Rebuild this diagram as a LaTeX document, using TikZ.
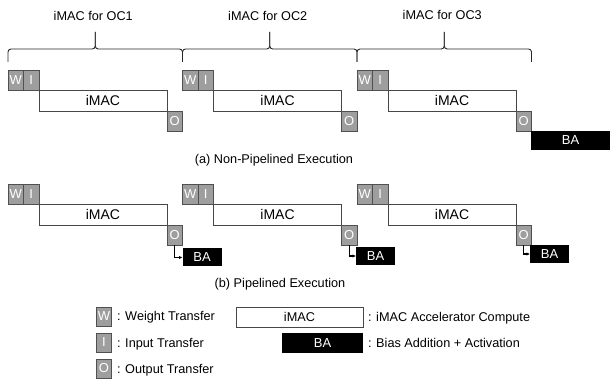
\documentclass[tikz,border=0pt]{standalone}
\usepackage{fontspec}
\setmainfont{Liberation Sans}
\usetikzlibrary{arrows.meta}
\definecolor{tgray}{RGB}{158,158,158}
\definecolor{tedge}{RGB}{80,80,80}
\definecolor{cedge}{RGB}{70,70,70}
\begin{document}
\begin{tikzpicture}[x=1pt,y=-1pt,
  every node/.style={inner sep=0pt,outer sep=0pt},
  xfer/.style={draw=tedge,fill=tgray,line width=0.9pt,text=white,
    font=\fontsize{13}{15}\selectfont,minimum width=15.5pt,minimum height=20pt},
  comp/.style={draw=cedge,fill=white,line width=0.9pt,
    font=\fontsize{14}{16}\selectfont,minimum height=21pt},
  bias/.style={fill=black,text=white,font=\fontsize{13}{15}\selectfont,minimum height=19pt},
  lbl/.style={font=\fontsize{12.7}{15}\selectfont},
  brc/.style={draw=black!85,line width=0.9pt,rounded corners=3pt},
  flow/.style={draw=black,line width=1.2pt,-{Latex[length=3.5pt,width=3.5pt]}}]
\useasboundingbox (0,0) rectangle (610,379);

% ---- (a) non-pipelined execution, one group per output channel
\foreach \k/\X/\ly in {1/8/15.5,2/182.5/15.5,3/357/14.5}{
  \node[xfer] (aW\k) at ({\X+7.75},80) {W};
  \node[xfer] (aI\k) at ({\X+23.25},80) {I};
  \node[comp,minimum width=128pt] (aC\k) at ({\X+95},100.5) {iMAC};
  \node[xfer] (aO\k) at ({\X+166.75},121) {O};
  % brace over the group
  \coordinate (tip\k) at ({\X+87.25},32);
  \draw[brc] (\X,62) -- (\X,49) -- ({\X+87.25},49) -- (tip\k);
  \draw[brc] ({\X+174.5},62) -- ({\X+174.5},49) -- ({\X+87.25},49) -- (tip\k);
  \node[lbl] (oc\k) at ({\X+85.25},\ly) {iMAC for OC\k};
}
\node[bias,minimum width=79pt] (aB) at (570.5,140.5) {BA};
\node[lbl,anchor=base] (capa) at (274,163.5) {(a) Non-Pipelined Execution};

% ---- (b) pipelined execution
\foreach \k/\X/\bx/\by in {1/8/202/257.5,2/182.5/375.5/256,3/357/549.5/254}{
  \node[xfer] (bW\k) at ({\X+7.75},194) {W};
  \node[xfer] (bI\k) at ({\X+23.25},194) {I};
  \node[comp,minimum width=128pt] (bC\k) at ({\X+95},214.5) {iMAC};
  \node[xfer] (bO\k) at ({\X+166.75},235) {O};
  \node[bias,minimum width=39pt,minimum height=18pt] (bB\k) at (\bx,\by) {BA};
  \draw[flow] (bO\k.south) |- (bB\k.west);
}
\node[lbl,anchor=base] (capb) at (280,287.5) {(b) Pipelined Execution};

% ---- legend
\node[xfer,minimum height=19pt] (lW) at (104,316.5) {W};
\node[xfer,minimum height=19pt] (lI) at (104,342.5) {I};
\node[xfer,minimum height=19pt] (lO) at (104,368.5) {O};
\node[lbl,anchor=base west] (tW) at (117,320) {: Weight Transfer};
\node[lbl,anchor=base west] (tI) at (117,347) {: Input Transfer};
\node[lbl,anchor=base west] (tO) at (117,373.5) {: Output Transfer};
\node[comp,minimum width=127pt,minimum height=20pt,font=\fontsize{12.7}{15}\selectfont] (lC) at (299.5,317) {iMAC};
\node[bias,minimum width=81pt,minimum height=20pt] (lB) at (322.5,343) {BA};
\node[lbl,anchor=base west] (tC) at (368,321) {: iMAC Accelerator Compute};
\node[lbl,anchor=base west] (tB) at (368,347.5) {: Bias Addition + Activation};
\end{tikzpicture}
\end{document}
